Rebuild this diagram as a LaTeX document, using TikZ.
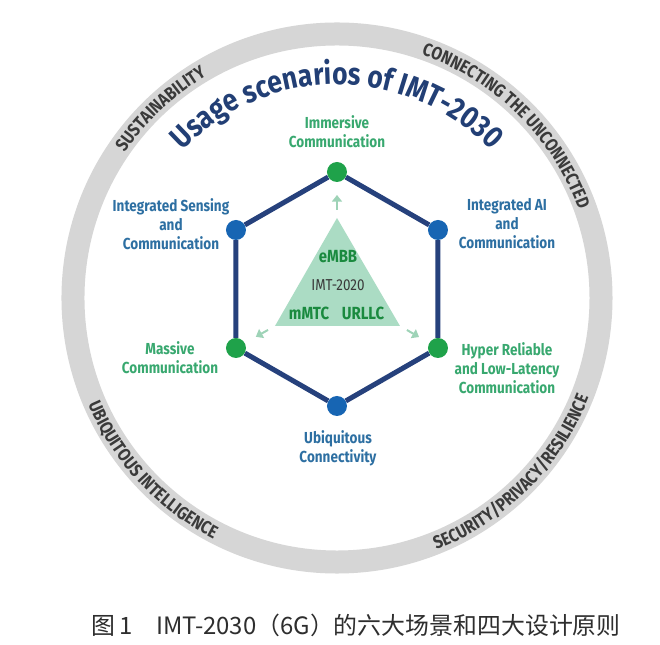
\documentclass[tikz,border=0pt]{standalone}
\usepackage{fontspec}
\setmainfont{Fira Sans}
\newfontfamily\condfont[FakeStretch=0.85]{Fira Sans}
\newfontfamily\cjkfont{Noto Sans CJK SC}
\usetikzlibrary{arrows.meta, calc, decorations.text}
\definecolor{titlenavy}{HTML}{223F75}
\definecolor{edgenavy}{HTML}{26417C}
\definecolor{dotblue}{HTML}{1765B3}
\definecolor{dotgreen}{HTML}{1FA24A}
\definecolor{labelblue}{HTML}{2D6FA2}
\definecolor{labelgreen}{HTML}{38A86F}
\definecolor{trigreen}{HTML}{ABDCC4}
\definecolor{arrowgreen}{HTML}{9ED3B7}
\definecolor{ringgray}{HTML}{D6D6D6}
\definecolor{ringtext}{HTML}{3A3A3A}
\tikzset{
    bluedot/.style={circle, fill=dotblue, minimum size=0.6cm, inner sep=0pt},
    greendot/.style={circle, fill=dotgreen, minimum size=0.6cm, inner sep=0pt},
    hexedge/.style={draw=edgenavy, line width=0.15cm},
    scenario/.style={align=center, inner sep=0pt, font=\condfont\bfseries\fontsize{13.6}{16.2}\selectfont},
    bluelabel/.style={scenario, text=labelblue},
    greenlabel/.style={scenario, text=labelgreen},
    trilabel/.style={inner sep=0pt, font=\condfont\bfseries\fontsize{15}{17}\selectfont, text=dotgreen!85!black},
    softarrow/.style={draw=arrowgreen, line width=0.06cm, -{Triangle[width=0.3cm, length=0.2cm]}},
    ringlabel/.style={decorate, decoration={text along path, text align=center, text color=ringtext,
        text={|\condfont\bfseries\fontsize{15.5}{18}\selectfont|#1}}}
}

\begin{document}
\begin{tikzpicture}[x=0.03cm, y=0.03cm]
        \useasboundingbox[fill=white] (-337,-347) rectangle (323,298);
        % outer ring with the four principles
        \draw[ringgray, line width=0.69cm] (0,0) circle [radius=7.92cm];
        \path[ringlabel=SUSTAINABILITY] (203:7.72cm) arc[start angle=203, end angle=63, radius=7.72cm];
        \path[ringlabel=CONNECTING THE UNCONNECTED] (115.5:7.72cm) arc[start angle=115.5, end angle=-24.5, radius=7.72cm];
        \path[ringlabel=UBIQUITOUS INTELLIGENCE] (153:8.12cm) arc[start angle=153, end angle=293, radius=8.12cm];
        \path[ringlabel=SECURITY/PRIVACY/RESILIENCE] (245:8.12cm) arc[start angle=245, end angle=385, radius=8.12cm];
        % title
        \path[decorate, decoration={text along path, text align=center, text color=titlenavy,
            text={|\condfont\bfseries\fontsize{26.5}{30}\selectfont|Usage scenarios of IMT-2030}}]
            (165:6.4cm) arc[start angle=165, end angle=15, radius=6.4cm];

        % IMT-2020 triangle
        \coordinate (tA) at (0,80);
        \coordinate (tB) at (-62,-28);
        \coordinate (tC) at (63,-28);
        \fill[trigreen] (tA) -- (tB) -- (tC) -- cycle;
        \node[trilabel] (embb) at (1,41) {eMBB};
        \node[inner sep=0pt, font=\condfont\fontsize{13.5}{16}\selectfont, text=ringtext] (imt) at (1,13) {IMT-2020};
        \node[trilabel] (mmtc) at (-28,-15) {mMTC};
        \node[trilabel] (urllc) at (26,-15) {URLLC};

        % six usage scenarios
        \node[greendot] (imm) at (0,126) {};
        \node[bluedot] (isac) at (-101,68) {};
        \node[bluedot] (ai) at (101,68) {};
        \node[greendot] (mass) at (-101,-50) {};
        \node[greendot] (hrll) at (101,-50) {};
        \node[bluedot] (ubiq) at (0,-108) {};
        \draw[hexedge] (imm) -- (ai) -- (hrll) -- (ubiq) -- (mass) -- (isac) -- (imm);

        \draw[softarrow] ($(tA)!0.24cm!(imm)$) -- ($(tA)!0.69cm!(imm)$);
        \draw[softarrow] ($(tB)!0.24cm!(mass)$) -- ($(tB)!0.66cm!(mass)$);
        \draw[softarrow] ($(tC)!0.24cm!(hrll)$) -- ($(tC)!0.66cm!(hrll)$);

        \node[greenlabel] (imml) at (0,166) {Immersive\\Communication};
        \node[bluelabel] (isacl) at (-166,74) {Integrated Sensing\\and\\Communication};
        \node[bluelabel] (ail) at (170,74) {Integrated AI\\and\\Communication};
        \node[greenlabel] (massl) at (-167,-60) {Massive\\Communication};
        \node[greenlabel] (hrlll) at (170,-70) {Hyper Reliable\\and Low-Latency\\Communication};
        \node[bluelabel] (ubiql) at (1,-150) {Ubiquitous\\Connectivity};

        % caption
        \node[font=\cjkfont\fontsize{20.4}{24}\selectfont, text=black!82] (cap) at (19,-327) {图\,1\hspace{1em}IMT-2030（6G）的六大场景和四大设计原则};
    \end{tikzpicture}
\end{document}
